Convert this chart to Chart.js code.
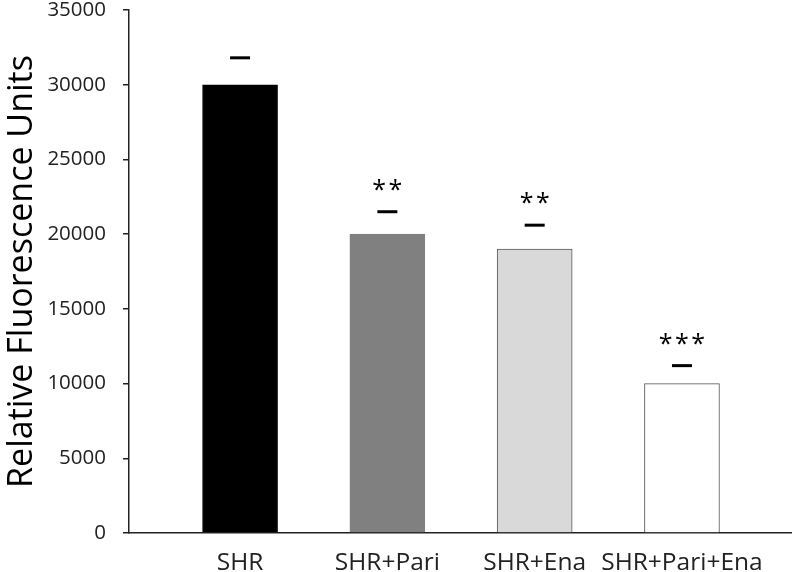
<!DOCTYPE html>
<html lang="en">
<head>
    <meta charset="UTF-8">
    <title>Relative Fluorescence Units</title>
    <script src="https://cdn.jsdelivr.net/npm/chart.js"></script>
    <style>
        body {
            margin: 0;
            background: #fff;
        }
        #chart-container {
            width: 792px;
            height: 572px;
        }
    </style>
</head>
<body>
    <div id="chart-container">
        <canvas id="rfuChart"></canvas>
    </div>

    <script>
        // data
        const groups = ["SHR", "SHR+Pari", "SHR+Ena", "SHR+Pari+Ena"];
        const rfu = [30000, 20000, 19000, 10000];
        const errTop = [31800, 21500, 20600, 11200];   // top of the error bar
        const stars = ["", "**", "**", "***"];
        const yTicks = [0, 5000, 10000, 15000, 20000, 25000, 30000, 35000];

        const fillColors = ["#000000", "#808080", "#d9d9d9", "#ffffff"];
        const edgeColors = ["#000000", "#808080", "#595959", "#595959"];

        // error caps and significance marks
        const markPlugin = {
            id: "marks",
            afterDatasetsDraw(chart) {
                const ctx = chart.ctx;
                const y = chart.scales.y;
                const bars = chart.getDatasetMeta(0).data;
                ctx.save();
                bars.forEach((bar, i) => {
                    const py = y.getPixelForValue(errTop[i]);
                    ctx.strokeStyle = "#000";
                    ctx.lineWidth = 3;
                    ctx.beginPath();
                    ctx.moveTo(bar.x - 10, py);
                    ctx.lineTo(bar.x + 10, py);
                    ctx.stroke();

                    if (stars[i]) {
                        ctx.fillStyle = "#000";
                        ctx.font = "25px 'Open Sans'";
                        ctx.textAlign = "center";
                        ctx.textBaseline = "alphabetic";
                        ctx.fillText(stars[i].split("").join("\u200a"), bar.x, py - 14);
                    }
                });
                ctx.restore();
            }
        };

        new Chart(document.getElementById("rfuChart"), {
            type: "bar",
            data: {
                datasets: [{
                    data: rfu.map((v, i) => ({ x: i, y: v })),
                    backgroundColor: fillColors,
                    borderColor: edgeColors,
                    borderWidth: 1,
                    barThickness: 75
                }]
            },
            options: {
                responsive: true,
                maintainAspectRatio: false,
                animation: false,
                layout: { padding: { top: 10, right: 0, left: 0, bottom: 0 } },
                plugins: {
                    legend: { display: false },
                    tooltip: { enabled: false }
                },
                scales: {
                    x: {
                        type: "linear",
                        offset: false,
                        min: -0.754,
                        max: 3.747,
                        grid: { display: false, drawTicks: false },
                        border: { display: true, color: "#222", width: 1.5 },
                        ticks: {
                            stepSize: 1,
                            includeBounds: false,
                            autoSkip: false,
                            maxRotation: 0,
                            padding: 15,
                            color: "#222",
                            font: { family: "'Open Sans'", size: 24.5 },
                            callback: v => groups[v] ?? ""
                        },
                        afterFit: s => { s.height = 39; }
                    },
                    y: {
                        min: 0,
                        max: 35000,
                        afterBuildTicks: s => { s.ticks = yTicks.map(v => ({ value: v })); },
                        grid: {
                            drawOnChartArea: false,
                            tickLength: 6,
                            color: "#222",
                            lineWidth: 1.5
                        },
                        border: { display: true, color: "#222", width: 1.5 },
                        ticks: {
                            padding: 17,
                            color: "#222",
                            font: { family: "'Open Sans'", size: 20.5 },
                            callback: v => String(v)
                        },
                        title: {
                            display: true,
                            text: "Relative Fluorescence Units",
                            color: "#000",
                            padding: { top: 2, bottom: 0 },
                            font: { family: "'Open Sans'", size: 34 }
                        },
                        afterFit: s => { s.width = 129; s.paddingTop = 0; }
                    }
                }
            },
            plugins: [markPlugin]
        });
    </script>
</body>
</html>
